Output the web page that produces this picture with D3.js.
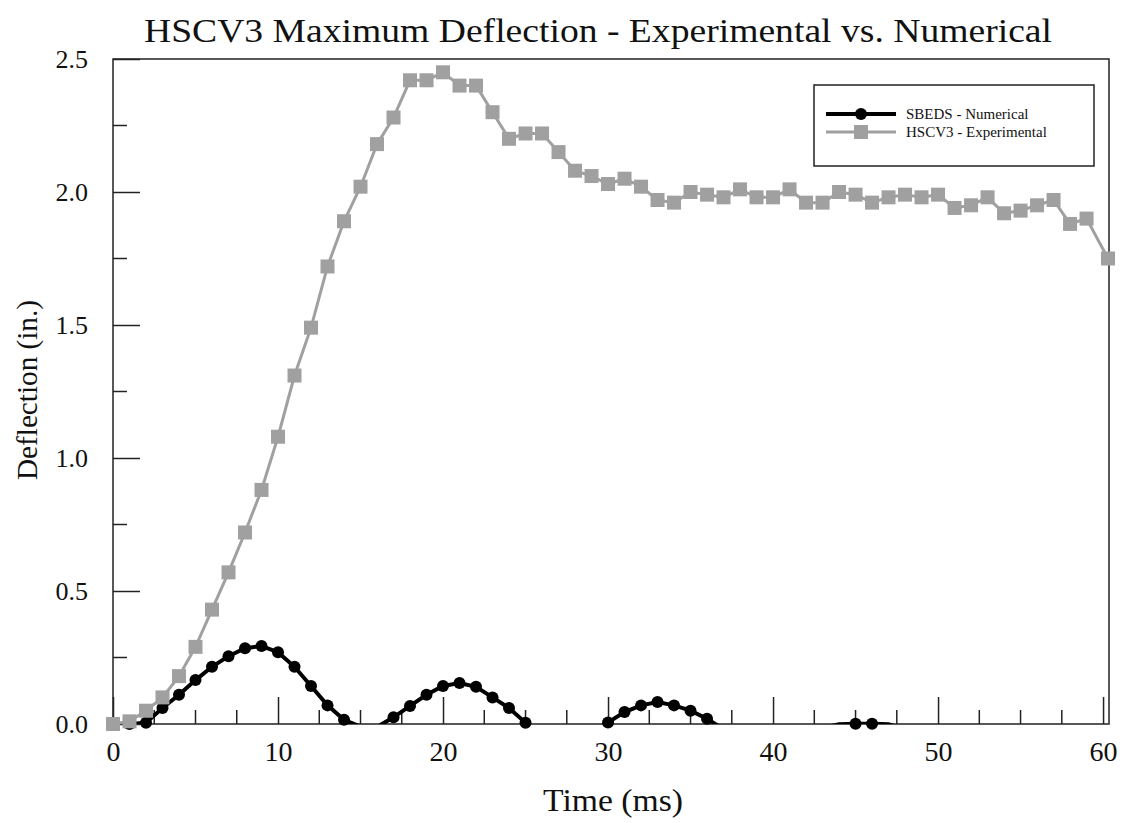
<!DOCTYPE html>
<html>
<head>
<meta charset="utf-8">
<script src="https://cdn.jsdelivr.net/npm/d3@7"></script>
<style>
  body { margin: 0; background: #fff; }
  text { font-family: "Liberation Serif", "DejaVu Serif", serif; fill: #111; }
</style>
</head>
<body>
<svg id="chart" width="1125" height="823"></svg>
<script>
  // experimental curve (grey squares)
  var expTime = [0,1,2,3,4,5,6,7,8,9,10,11,12,13,14,15,16,17,18,19,20,21,22,23,24,25,26,27,28,29,30,
                 31,32,33,34,35,36,37,38,39,40,41,42,43,44,45,46,47,48,49,50,51,52,53,54,55,56,57,58,59,60.3];
  var expDefl = [0.0,0.01,0.05,0.10,0.18,0.29,0.43,0.57,0.72,0.88,1.08,1.31,1.49,1.72,1.89,2.02,2.18,2.28,2.42,2.42,2.45,
                 2.40,2.40,2.30,2.20,2.22,2.22,2.15,2.08,2.06,2.03,2.05,2.02,1.97,1.96,2.00,1.99,1.98,2.01,1.98,1.98,
                 2.01,1.96,1.96,2.00,1.99,1.96,1.98,1.99,1.98,1.99,1.94,1.95,1.98,1.92,1.93,1.95,1.97,1.88,1.90,1.75];

  // SBEDS numerical curve (black dots); negative parts fall below the axis
  var numTime = [0,1,2,3,4,5,6,7,8,9,10,11,12,13,14,15,16,17,18,19,20,21,22,23,24,25,26,27,28,29,30,
                 31,32,33,34,35,36,37,38,39,40,41,42,43,44,45,46,47,48,49,50];
  var numDefl = [0.0,0.0,0.005,0.06,0.11,0.165,0.215,0.255,0.285,0.293,0.27,0.215,0.143,0.07,0.016,-0.01,-0.011,0.025,0.068,0.11,0.143,
                 0.154,0.14,0.10,0.06,0.005,-0.03,-0.05,-0.05,-0.03,0.006,0.045,0.07,0.083,0.07,0.05,0.02,-0.02,-0.04,-0.05,-0.05,
                 -0.04,-0.03,-0.015,-0.001,0.001,0.001,-0.001,-0.02,-0.04,-0.05];

  var xMajor = [0,10,20,30,40,50,60];
  var xMinor = [2.5,5,7.5,12.5,15,17.5,22.5,25,27.5,32.5,35,37.5,42.5,45,47.5,52.5,55,57.5];
  var yMajor = [0,0.5,1.0,1.5,2.0,2.5];
  var yMinor = [0.25,0.75,1.25,1.75,2.25];

  var pLeft = 113, pRight = 1109, pTop = 59, pBottom = 724;

  var svg = d3.select("#chart");

  var x = d3.scaleLinear().domain([0, 60.36]).range([pLeft, pRight]);
  var y = d3.scaleLinear().domain([0, 2.5]).range([pBottom, pTop]);

  svg.append("defs").append("clipPath").attr("id", "plotclip")
    .append("rect").attr("x", pLeft).attr("y", pTop)
    .attr("width", pRight - pLeft).attr("height", pBottom - pTop);

  // frame
  svg.append("rect")
    .attr("x", pLeft).attr("y", pTop)
    .attr("width", pRight - pLeft).attr("height", pBottom - pTop)
    .style("fill", "none").style("stroke", "#222").style("stroke-width", 1.5);

  // axes (ticks inside)
  var xAxis = svg.append("g").attr("transform", "translate(0," + pBottom + ")")
    .call(d3.axisBottom(x).tickValues(xMajor).tickSize(-27).tickPadding(17)
      .tickFormat(d3.format("d")));
  xAxis.append("g").selectAll("line").data(xMinor).enter().append("line")
    .attr("x1", function(d) { return x(d); }).attr("x2", function(d) { return x(d); })
    .attr("y1", 0).attr("y2", -14);

  var yAxis = svg.append("g").attr("transform", "translate(" + pLeft + ",0)")
    .call(d3.axisLeft(y).tickValues(yMajor).tickSize(-27).tickPadding(25)
      .tickFormat(d3.format(".1f")));
  yAxis.append("g").selectAll("line").data(yMinor).enter().append("line")
    .attr("y1", function(d) { return y(d); }).attr("y2", function(d) { return y(d); })
    .attr("x1", 0).attr("x2", 14);

  svg.selectAll(".domain").remove();
  xAxis.selectAll("line").style("stroke", "#222").style("stroke-width", 1.5);
  yAxis.selectAll("line").style("stroke", "#222").style("stroke-width", 1.5);
  xAxis.selectAll(".tick text").style("font-size", "28px").style("font-family", "Liberation Serif").style("fill", "#111");
  yAxis.selectAll(".tick text").style("font-size", "26px").style("font-family", "Liberation Serif").style("fill", "#111");

  // lines
  var numPts = numTime.map(function(t, i) { return [t, numDefl[i]]; });
  var expPts = expTime.map(function(t, i) { return [t, expDefl[i]]; });

  var line = d3.line()
    .x(function(d) { return x(d[0]); })
    .y(function(d) { return y(d[1]); });

  var plot = svg.append("g");

  plot.append("path").datum(numPts)
    .attr("clip-path", "url(#plotclip)")
    .attr("d", line)
    .style("fill", "none").style("stroke", "#000").style("stroke-width", 4);

  plot.selectAll("circle.num")
    .data(numPts.filter(function(d) { return d[1] >= 0; }))
    .enter().append("circle")
    .attr("class", "num")
    .attr("cx", function(d) { return x(d[0]); })
    .attr("cy", function(d) { return y(d[1]); })
    .attr("r", 6)
    .style("fill", "#000");

  plot.append("path").datum(expPts)
    .attr("d", line)
    .style("fill", "none").style("stroke", "#a0a0a0").style("stroke-width", 3);

  plot.selectAll("rect.exp")
    .data(expPts)
    .enter().append("rect")
    .attr("class", "exp")
    .attr("x", function(d) { return x(d[0]) - 7; })
    .attr("y", function(d) { return y(d[1]) - 7; })
    .attr("width", 14).attr("height", 14)
    .style("fill", "#a0a0a0");

  // legend
  var lg = svg.append("g");
  lg.append("rect").attr("x", 814).attr("y", 85).attr("width", 280).attr("height", 81)
    .style("fill", "#fff").style("stroke", "#222").style("stroke-width", 1.5);

  var legendItems = [
    { label: "SBEDS - Numerical", color: "#000", width: 4, shape: "circle" },
    { label: "HSCV3 - Experimental", color: "#a0a0a0", width: 3, shape: "square" }
  ];
  legendItems.forEach(function(it, i) {
    var yy = 114 + i * 18;
    lg.append("line").attr("x1", 826).attr("x2", 896).attr("y1", yy).attr("y2", yy)
      .style("stroke", it.color).style("stroke-width", it.width);
    if (it.shape == "circle") {
      lg.append("circle").attr("cx", 861).attr("cy", yy).attr("r", 6).style("fill", it.color);
    } else {
      lg.append("rect").attr("x", 854).attr("y", yy - 7).attr("width", 14).attr("height", 14).style("fill", it.color);
    }
    lg.append("text").attr("x", 906).attr("y", yy + 5).text(it.label)
      .style("font-size", "15px");
  });

  // titles
  svg.append("text").attr("x", 598).attr("y", 42).attr("text-anchor", "middle")
    .attr("textLength", 908).attr("lengthAdjust", "spacingAndGlyphs")
    .style("font-size", "33px").text("HSCV3 Maximum Deflection - Experimental vs. Numerical");
  svg.append("text").attr("x", 613).attr("y", 811).attr("text-anchor", "middle")
    .attr("textLength", 140).attr("lengthAdjust", "spacingAndGlyphs")
    .style("font-size", "31px").text("Time (ms)");
  svg.append("text").attr("transform", "translate(37,390) rotate(-90)").attr("text-anchor", "middle")
    .attr("textLength", 180).attr("lengthAdjust", "spacingAndGlyphs")
    .style("font-size", "30px").text("Deflection (in.)");
</script>
</body>
</html>
